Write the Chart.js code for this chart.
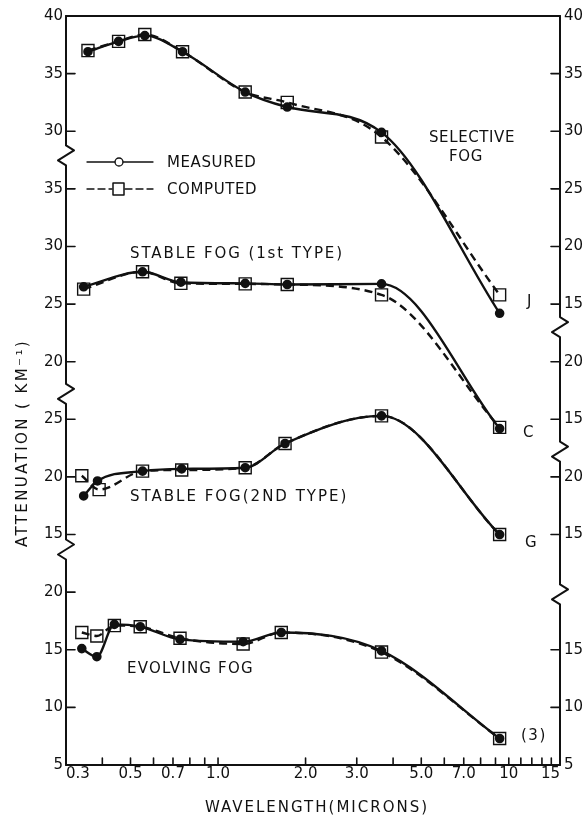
<!DOCTYPE html>
<html>
<head>
<meta charset="utf-8">
<script src="https://cdn.jsdelivr.net/npm/chart.js@4.4.1/dist/chart.umd.min.js"></script>
<style>
  html, body { margin: 0; padding: 0; background: #fff; }
  #wrap { width: 587px; height: 819px; }
</style>
</head>
<body>
<div id="wrap"><canvas id="fog" width="587" height="819"></canvas></div>
<script>
// attenuation (km^-1) against wavelength (microns)
const wlSelective = [0.357, 0.455, 0.56, 0.755, 1.24, 1.73, 3.65, 9.3];
const selMeasured = [36.9, 37.8, 38.3, 36.9, 33.4, 32.1, 29.9, 14.2];
const selComputed = [37.0, 37.8, 38.4, 36.9, 33.4, 32.5, 29.5, 15.8];

const wlStable1 = [0.345, 0.55, 0.745, 1.24, 1.73, 3.65, 9.3];
const st1Measured = [26.5, 27.8, 26.9, 26.8, 26.7, 26.75, 14.2];
const st1Computed = [26.3, 27.8, 26.8, 26.75, 26.7, 25.8, 14.3];

const wlStable2Meas = [0.345, 0.385, 0.55, 0.75, 1.24, 1.7, 3.65, 9.3];
const wlStable2Comp = [0.34, 0.39, 0.55, 0.75, 1.24, 1.7, 3.65, 9.3];
const st2Measured = [18.35, 19.65, 20.5, 20.7, 20.8, 22.9, 25.3, 15.0];
const st2Computed = [20.1, 18.9, 20.5, 20.6, 20.8, 22.9, 25.3, 15.0];

const wlEvolving = [0.34, 0.383, 0.44, 0.54, 0.74, 1.22, 1.65, 3.65, 9.3];
const evoMeasured = [15.1, 14.4, 17.2, 17.0, 15.9, 15.7, 16.5, 14.9, 7.3];
const evoComputed = [16.5, 16.2, 17.1, 17.0, 16.0, 15.5, 16.5, 14.8, 7.3];

// each fog panel is lifted on a shared axis, broken between panels
const offSelective = 30, offStable1 = 20, offStable2 = 10, offEvolving = 0;

const xTickValues = [0.3, 0.5, 0.7, 1, 2, 3, 5, 7, 10, 15];
const xTickLabels = ['0.3', '0.5', '0.7', '1.0', '2.0', '3.0', '5.0', '7.0', '10', '15'];
const xMinorTicks = [0.4, 0.5, 0.6, 0.7, 0.8, 0.9, 1, 2, 3, 4, 5, 6, 7, 8, 9, 10, 11, 12, 13, 14];

const leftTickValues = [5, 10, 15, 20, 25, 30, 35, 40, 45, 50, 55, 60, 65, 70];
const leftTickLabels = ['5', '10', '15', '20', '15', '20', '25', '20', '25', '30', '35', '30', '35', '40'];
const rightTickValues = [5, 10, 15, 25, 30, 35, 40, 45, 50, 55, 60, 65, 70];
const rightTickLabels = ['5', '10', '15', '15', '20', '15', '20', '15', '20', '25', '30', '35', '40'];
const leftBreaks = [23.7, 37.2, 57.9];
const rightBreaks = [19.8, 32.2, 43.0];

const INK = '#111';
const FONT = '"DejaVu Sans", sans-serif';

function pts(wl, vals, off) {
  return wl.map((w, i) => ({ x: w, y: vals[i] + off }));
}

function measured(data) {
  return {
    data: data,
    borderColor: INK,
    borderWidth: 2.4,
    pointStyle: 'circle',
    pointRadius: 3.6,
    pointBackgroundColor: INK,
    pointBorderColor: INK,
    cubicInterpolationMode: 'monotone',
    fill: false
  };
}

function computed(data) {
  return {
    data: data,
    borderColor: INK,
    borderWidth: 2.4,
    borderDash: [8, 5],
    pointStyle: 'rect',
    pointRadius: 8.5,
    pointBorderWidth: 1.4,
    pointBackgroundColor: 'rgba(0,0,0,0)',
    pointBorderColor: INK,
    cubicInterpolationMode: 'monotone',
    fill: false
  };
}

function txt(ctx, s, x, y, size, spacing, align) {
  ctx.save();
  ctx.font = size + 'px ' + FONT;
  ctx.letterSpacing = spacing + 'px';
  ctx.fillStyle = INK;
  ctx.textAlign = align || 'left';
  ctx.textBaseline = 'middle';
  ctx.fillText(s, x, y);
  ctx.restore();
}

function brokenAxis(ctx, x, top, bottom, breaks) {
  ctx.beginPath();
  ctx.moveTo(x, top);
  breaks.forEach(b => {
    ctx.lineTo(x, b - 10);
    ctx.lineTo(x + 8, b - 5);
    ctx.lineTo(x - 8, b + 5);
    ctx.lineTo(x, b + 10);
  });
  ctx.lineTo(x, bottom);
  ctx.stroke();
}

const decor = {
  id: 'decor',
  afterDraw(chart) {
    const ctx = chart.ctx;
    const a = chart.chartArea;
    const xs = chart.scales.x, ys = chart.scales.y;
    ctx.save();
    ctx.strokeStyle = INK;
    ctx.lineWidth = 2;
    ctx.lineCap = 'round';
    ctx.lineJoin = 'round';

    // frame: top and bottom lines, broken side axes
    ctx.beginPath();
    ctx.moveTo(a.left, a.top); ctx.lineTo(a.right, a.top);
    ctx.moveTo(a.left, a.bottom); ctx.lineTo(a.right, a.bottom);
    ctx.stroke();
    brokenAxis(ctx, a.left, a.top, a.bottom, leftBreaks.map(v => ys.getPixelForValue(v)).sort((p, q) => p - q));
    brokenAxis(ctx, a.right, a.top, a.bottom, rightBreaks.map(v => ys.getPixelForValue(v)).sort((p, q) => p - q));

    // inward tick marks
    ctx.lineWidth = 1.6;
    ctx.beginPath();
    leftTickValues.forEach(v => {
      if (v === 5 || v === 70) return;
      const y = ys.getPixelForValue(v);
      ctx.moveTo(a.left, y); ctx.lineTo(a.left + 9, y);
    });
    rightTickValues.forEach(v => {
      if (v === 5 || v === 70) return;
      const y = ys.getPixelForValue(v);
      ctx.moveTo(a.right, y); ctx.lineTo(a.right - 9, y);
    });
    xMinorTicks.forEach(v => {
      const x = xs.getPixelForValue(v);
      ctx.moveTo(x, a.bottom); ctx.lineTo(x, a.bottom - 7);
    });
    ctx.stroke();

    // legend
    ctx.lineWidth = 1.3;
    ctx.beginPath();
    ctx.moveTo(87, 162); ctx.lineTo(115, 162);
    ctx.moveTo(123, 162); ctx.lineTo(153, 162);
    ctx.stroke();
    ctx.beginPath();
    ctx.arc(119, 162, 4, 0, Math.PI * 2);
    ctx.stroke();
    ctx.setLineDash([7, 4]);
    ctx.beginPath();
    ctx.moveTo(87, 189); ctx.lineTo(112, 189);
    ctx.moveTo(125, 189); ctx.lineTo(153, 189);
    ctx.stroke();
    ctx.setLineDash([]);
    ctx.lineWidth = 1.5;
    ctx.strokeRect(113, 183, 11, 12);
    txt(ctx, 'MEASURED', 167, 163, 15, 0.6);
    txt(ctx, 'COMPUTED', 167, 190, 15, 0.6);

    // panel labels
    txt(ctx, 'SELECTIVE', 472, 138, 15, 0.6, 'center');
    txt(ctx, 'FOG', 466, 157, 15, 0.6, 'center');
    txt(ctx, 'STABLE FOG (1st TYPE)', 130, 254, 15, 1.9);
    txt(ctx, 'STABLE FOG(2ND TYPE)', 130, 497, 15, 2.0);
    txt(ctx, 'EVOLVING FOG', 127, 669, 15, 1.2);
    txt(ctx, 'J', 527, 302, 15, 0);
    txt(ctx, 'C', 523, 433, 15, 0);
    txt(ctx, 'G', 525, 543, 15, 0);
    txt(ctx, '(3)', 521, 736, 15, 1.5);

    // axis titles
    txt(ctx, 'WAVELENGTH(MICRONS)', 317, 808, 15, 2, 'center');
    ctx.save();
    ctx.translate(23, 443);
    ctx.rotate(-Math.PI / 2);
    txt(ctx, 'ATTENUATION ( KM\u207B\u00B9)', 0, 0, 15, 2.4, 'center');
    ctx.restore();

    ctx.restore();
  }
};

const tickFont = { family: FONT, size: 15 };

new Chart(document.getElementById('fog'), {
  type: 'line',
  data: {
    datasets: [
      computed(pts(wlSelective, selComputed, offSelective)),
      measured(pts(wlSelective, selMeasured, offSelective)),
      computed(pts(wlStable1, st1Computed, offStable1)),
      measured(pts(wlStable1, st1Measured, offStable1)),
      computed(pts(wlStable2Comp, st2Computed, offStable2)),
      measured(pts(wlStable2Meas, st2Measured, offStable2)),
      computed(pts(wlEvolving, evoComputed, offEvolving)),
      measured(pts(wlEvolving, evoMeasured, offEvolving))
    ]
  },
  options: {
    responsive: false,
    animation: false,
    layout: { padding: { top: 16, right: 0, left: 0, bottom: 0 } },
    plugins: {
      legend: { display: false },
      tooltip: { enabled: false }
    },
    scales: {
      x: {
        type: 'logarithmic',
        min: 0.3,
        max: 15,
        afterBuildTicks: s => { s.ticks = xTickValues.map(v => ({ value: v })); },
        afterFit: s => { s.height = 54; },
        grid: { display: false, drawTicks: false },
        border: { display: false },
        ticks: {
          autoSkip: false,
          maxRotation: 0,
          align: 'inner',
          padding: 0,
          color: INK,
          font: tickFont,
          callback: (v, i) => xTickLabels[i]
        }
      },
      y: {
        type: 'linear',
        position: 'left',
        min: 5,
        max: 70,
        afterBuildTicks: s => { s.ticks = leftTickValues.map(v => ({ value: v })); },
        afterFit: s => { s.width = 66; },
        grid: { display: false, drawTicks: false },
        border: { display: false },
        ticks: {
          autoSkip: false,
          padding: 3,
          color: INK,
          font: tickFont,
          callback: (v, i) => leftTickLabels[i]
        }
      },
      y2: {
        type: 'linear',
        position: 'right',
        min: 5,
        max: 70,
        afterBuildTicks: s => { s.ticks = rightTickValues.map(v => ({ value: v })); },
        afterFit: s => { s.width = 27; },
        grid: { display: false, drawTicks: false },
        border: { display: false },
        ticks: {
          autoSkip: false,
          padding: 4,
          color: INK,
          font: tickFont,
          callback: (v, i) => rightTickLabels[i]
        }
      }
    }
  },
  plugins: [decor]
});
</script>
</body>
</html>
